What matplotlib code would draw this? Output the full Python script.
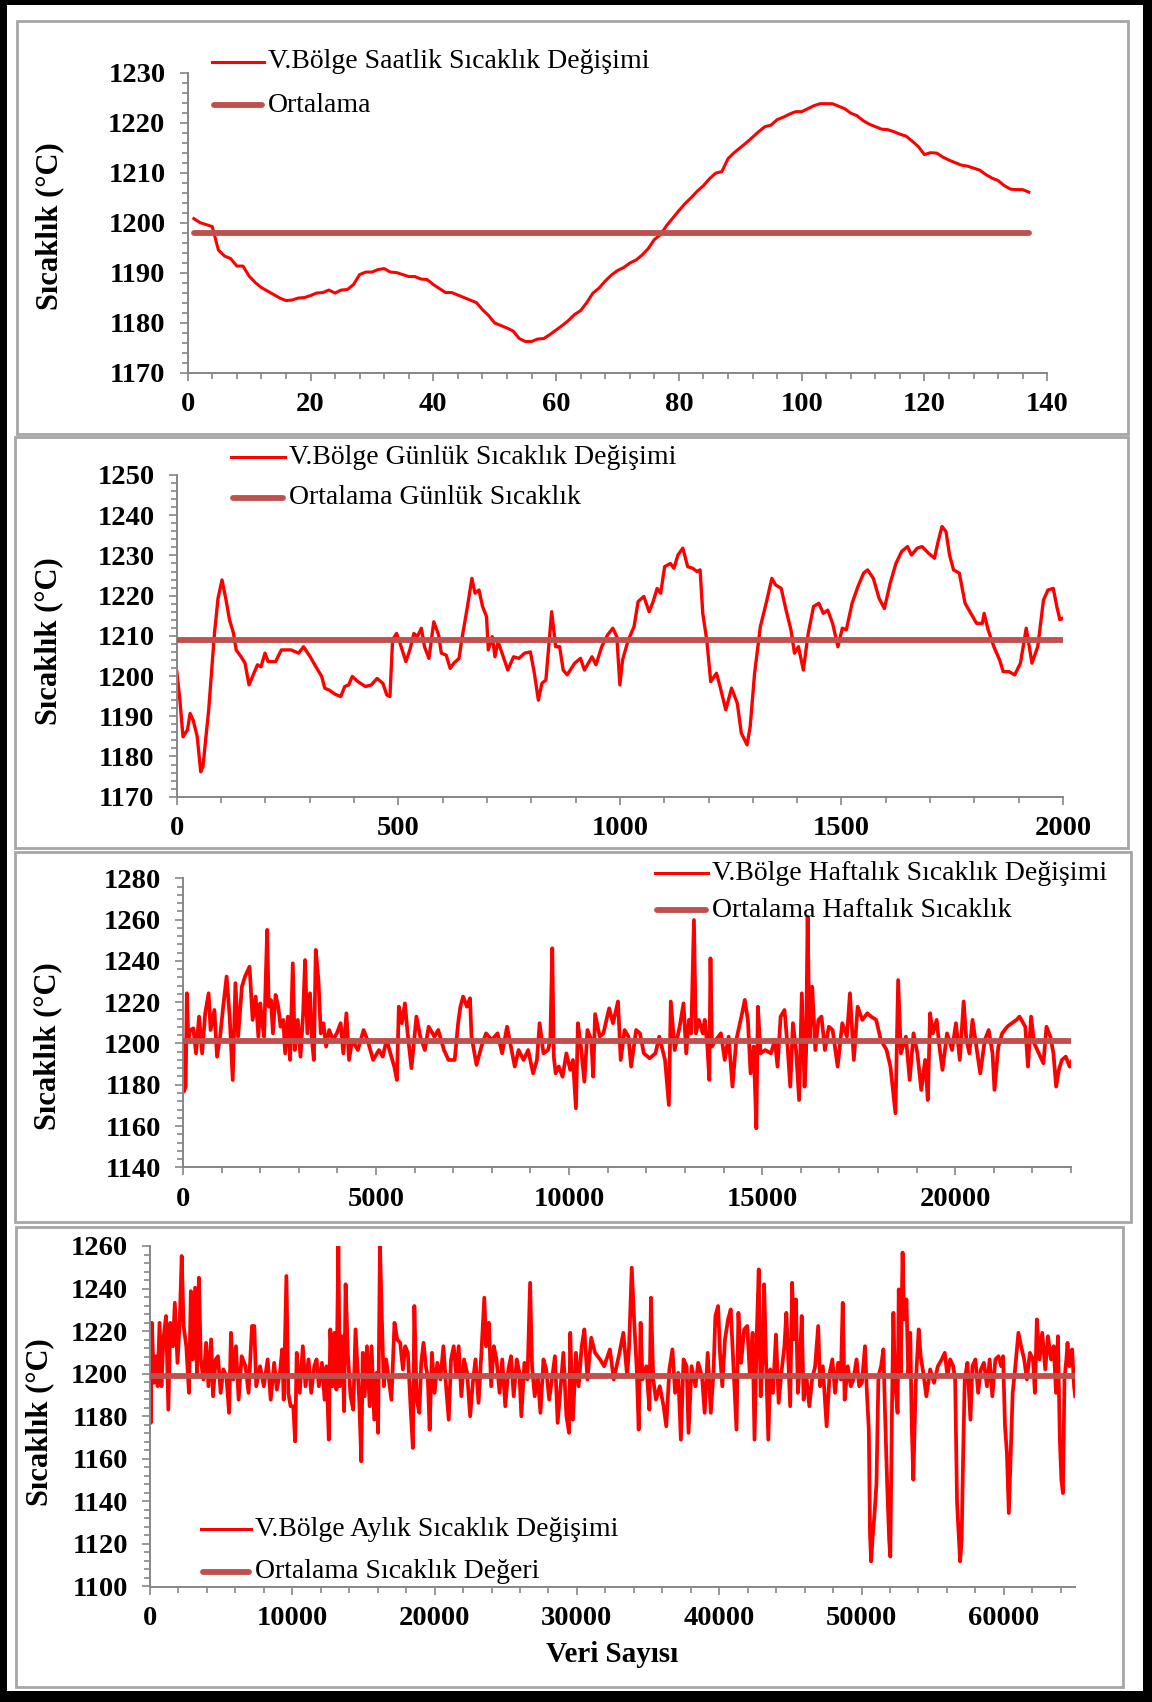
import numpy as np
import matplotlib
matplotlib.use('Agg')
import matplotlib.pyplot as plt
from matplotlib.lines import Line2D
from matplotlib.patches import Rectangle
from matplotlib.ticker import MultipleLocator

plt.rcParams['font.family'] = ['Liberation Serif', 'DejaVu Serif']
plt.rcParams['font.weight'] = 'bold'

# ---------------- DATA ----------------
# Panel 1: hourly (Saatlik), x = 1..137
hourly_values = [
    1200.8, 1200.0, 1199.6, 1199.2, 1194.5, 1193.3, 1192.8, 1191.3, 1191.3, 1189.3,
    1188.0, 1187.0, 1186.3, 1185.6, 1184.9, 1184.4, 1184.5, 1184.9, 1185.0, 1185.4,
    1185.9, 1186.0, 1186.5, 1185.9, 1186.5, 1186.6, 1187.6, 1189.6, 1190.1, 1190.1,
    1190.6, 1190.8, 1190.1, 1190.0, 1189.6, 1189.2, 1189.2, 1188.7, 1188.6, 1187.6,
    1186.8, 1186.0, 1186.0, 1185.5, 1185.0, 1184.5, 1184.0, 1182.6, 1181.4, 1179.9,
    1179.4, 1178.9, 1178.3, 1176.8, 1176.2, 1176.2, 1176.7, 1176.8, 1177.6, 1178.5,
    1179.4, 1180.4, 1181.6, 1182.4, 1184.0, 1185.9, 1186.9, 1188.3, 1189.5, 1190.4,
    1191.0, 1191.9, 1192.5, 1193.5, 1194.8, 1196.6, 1197.6, 1199.4, 1200.9, 1202.4,
    1203.8, 1205.0, 1206.3, 1207.4, 1208.8, 1209.9, 1210.2, 1212.8, 1214.0, 1215.0,
    1216.0, 1217.1, 1218.2, 1219.2, 1219.5, 1220.6, 1221.1, 1221.7, 1222.2, 1222.2,
    1222.8, 1223.4, 1223.8, 1223.8, 1223.8, 1223.3, 1222.8, 1221.9, 1221.4, 1220.4,
    1219.7, 1219.2, 1218.7, 1218.6, 1218.2, 1217.7, 1217.3, 1216.3, 1215.2, 1213.6,
    1214.0, 1213.9, 1213.1, 1212.5, 1212.0, 1211.5, 1211.3, 1210.9, 1210.5, 1209.6,
    1208.9, 1208.4, 1207.4, 1206.7, 1206.6, 1206.6, 1206.1]
hourly_mean = 1198.0

# Panel 2: daily (Gunluk)
daily_x = [0, 7, 14, 24, 30, 37, 46, 54, 59, 72, 85, 93, 102, 111, 119, 128, 134, 145, 154, 163,
           171, 182, 190, 199, 206, 223, 236, 258, 275, 286, 301, 314, 327, 334, 344, 357, 370, 379,
           388, 396, 409, 426, 439, 452, 465, 474, 481, 487, 496, 504, 517, 526, 535, 543, 552, 559,
           569, 580, 591, 597, 608, 617, 625, 637, 643, 656, 666, 673, 682, 690, 699, 703, 712, 718,
           725, 734, 747, 760, 772, 785, 798, 807, 816, 824, 833, 839, 846, 855, 864, 872, 881, 898,
           911, 920, 937, 946, 959, 972, 984, 993, 1000, 1006, 1019, 1032, 1041, 1054, 1066, 1075,
           1084, 1092, 1101, 1114, 1122, 1131, 1142, 1153, 1164, 1174, 1181, 1187, 1196, 1205, 1218,
           1226, 1239, 1252, 1265, 1274, 1287, 1294, 1304, 1317, 1330, 1343, 1351, 1364, 1375, 1386,
           1394, 1403, 1414, 1425, 1437, 1449, 1459, 1469, 1480, 1492, 1502, 1511, 1524, 1537, 1550,
           1559, 1572, 1585, 1597, 1610, 1623, 1636, 1649, 1658, 1671, 1682, 1697, 1710, 1718, 1727,
           1736, 1744, 1753, 1766, 1779, 1792, 1805, 1818, 1822, 1831, 1844, 1857, 1865, 1878, 1891,
           1904, 1917, 1930, 1943, 1956, 1966, 1978, 1986, 1993, 2000]
daily_values = [1201.1, 1194.0, 1184.9, 1186.6, 1190.7, 1189.0, 1185.0, 1176.2, 1177.5, 1191.6,
                1210.6, 1219.3, 1223.9, 1219.0, 1214.0, 1210.6, 1206.5, 1204.8, 1203.2, 1197.8,
                1199.9, 1202.8, 1202.3, 1205.7, 1203.6, 1203.6, 1206.5, 1206.5, 1205.7, 1207.3,
                1204.8, 1202.3, 1199.9, 1197.0, 1196.5, 1195.5, 1194.9, 1197.4, 1197.8, 1199.9,
                1198.6, 1197.4, 1197.8, 1199.4, 1198.2, 1195.3, 1194.9, 1209.0, 1210.6, 1208.1,
                1203.6, 1206.5, 1210.6, 1209.8, 1211.9, 1207.3, 1204.4, 1213.5, 1210.2, 1205.7,
                1205.2, 1201.9, 1203.2, 1204.4, 1209.0, 1217.3, 1224.3, 1220.6, 1221.4, 1217.3,
                1214.8, 1206.5, 1209.8, 1204.8, 1208.6, 1205.7, 1201.5, 1204.8, 1204.4, 1205.7,
                1206.0, 1200.7, 1194.0, 1198.2, 1199.0, 1206.9, 1216.0, 1207.3, 1207.3, 1201.5,
                1200.3, 1203.2, 1204.4, 1201.5, 1204.8, 1202.8, 1207.3, 1210.2, 1211.9, 1209.8,
                1197.8, 1204.0, 1209.0, 1212.3, 1218.5, 1219.8, 1216.0, 1218.5, 1221.8, 1220.6,
                1227.2, 1228.0, 1226.8, 1230.1, 1231.8, 1227.2, 1226.8, 1226.0, 1226.4, 1215.6,
                1209.0, 1198.6, 1200.7, 1197.4, 1191.6, 1197.0, 1193.2, 1185.8, 1182.9, 1187.4,
                1200.7, 1212.3, 1218.1, 1224.3, 1222.7, 1221.8, 1216.4, 1211.5, 1205.7, 1207.3,
                1201.5, 1210.6, 1217.3, 1218.1, 1215.6, 1216.4, 1213.1, 1207.3, 1211.9, 1211.5,
                1218.1, 1222.2, 1225.6, 1226.4, 1224.3, 1219.3, 1216.8, 1223.1, 1228.0, 1231.0,
                1232.2, 1230.1, 1231.8, 1232.2, 1230.5, 1229.3, 1233.4, 1237.2, 1235.9, 1230.1,
                1226.4, 1225.6, 1218.1, 1215.6, 1213.1, 1213.1, 1215.6, 1211.5, 1207.3, 1204.0,
                1201.1, 1201.1, 1200.3, 1203.2, 1211.9, 1203.2, 1207.3, 1218.9, 1221.4, 1221.8,
                1217.3, 1214.0, 1214.4]
daily_mean = 1209.0

# Panel 3: weekly (Haftalik)
weekly_x = [0, 20, 69, 99, 139, 188, 268, 337, 416, 496, 575, 664, 714, 813, 882, 961, 1041, 1130,
            1209, 1288, 1358, 1427, 1526, 1606, 1724, 1804, 1883, 1952, 2002, 2052, 2101, 2180,
            2220, 2280, 2329, 2398, 2468, 2527, 2597, 2646, 2716, 2775, 2844, 2894, 2973, 3043,
            3112, 3162, 3221, 3290, 3340, 3389, 3439, 3508, 3568, 3637, 3707, 3786, 3885, 3984,
            4083, 4153, 4232, 4301, 4381, 4529, 4678, 4777, 4926, 5074, 5173, 5273, 5372, 5471,
            5540, 5590, 5669, 5748, 5818, 5917, 6046, 6145, 6264, 6363, 6512, 6611, 6760, 6878,
            7037, 7126, 7185, 7255, 7354, 7433, 7473, 7602, 7730, 7849, 7998, 8147, 8266, 8394,
            8494, 8593, 8692, 8821, 8940, 9068, 9167, 9237, 9336, 9455, 9514, 9564, 9604, 9653,
            9732, 9831, 9930, 10030, 10099, 10178, 10228, 10307, 10396, 10476, 10575, 10624, 10674,
            10793, 10888, 11038, 11138, 11267, 11337, 11437, 11537, 11607, 11737, 11836, 11936,
            12086, 12236, 12335, 12485, 12585, 12635, 12735, 12864, 12964, 13034, 13104, 13164,
            13234, 13283, 13363, 13463, 13513, 13582, 13632, 13662, 13702, 13802, 13932, 14032,
            14132, 14232, 14331, 14481, 14551, 14631, 14701, 14780, 14850, 14890, 14960, 15080,
            15230, 15329, 15399, 15479, 15579, 15659, 15729, 15798, 15878, 15958, 16028, 16098,
            16138, 16178, 16228, 16297, 16377, 16457, 16537, 16627, 16727, 16826, 16956, 17076,
            17196, 17275, 17375, 17475, 17595, 17725, 17824, 17954, 18074, 18224, 18323, 18453,
            18523, 18593, 18723, 18822, 18922, 19022, 19122, 19222, 19291, 19351, 19421, 19521,
            19591, 19671, 19790, 19920, 20020, 20120, 20220, 20289, 20369, 20449, 20549, 20649,
            20768, 20868, 20968, 21018, 21118, 21218, 21347, 21467, 21587, 21667, 21816, 21886,
            21966, 22046, 22166, 22285, 22365, 22465, 22545, 22615, 22685, 22764, 22864, 22964, 23034]
weekly_values = [1201.7, 1176.7, 1179.0, 1224.3, 1201.7, 1206.5, 1207.3, 1195.2, 1213.0, 1195.2,
                 1214.6, 1224.3, 1206.5, 1216.2, 1193.6, 1203.3, 1217.8, 1232.4, 1213.0, 1182.3,
                 1229.2, 1203.3, 1227.5, 1232.4, 1237.2, 1211.4, 1222.7, 1203.3, 1219.4, 1209.8,
                 1203.3, 1255.0, 1217.8, 1221.0, 1204.9, 1223.5, 1217.8, 1208.1, 1211.4, 1195.2,
                 1213.0, 1192.0, 1238.8, 1196.8, 1211.4, 1193.6, 1214.6, 1240.4, 1204.9, 1224.3,
                 1201.7, 1192.0, 1245.3, 1230.7, 1204.9, 1209.8, 1198.5, 1206.5, 1201.7, 1204.9,
                 1209.8, 1195.2, 1214.6, 1192.0, 1201.7, 1196.8, 1206.5, 1201.7, 1192.0, 1196.8,
                 1193.6, 1201.7, 1195.2, 1188.8, 1182.3, 1217.8, 1209.8, 1219.4, 1204.9, 1188.0,
                 1213.0, 1203.3, 1196.8, 1208.1, 1203.3, 1206.5, 1196.8, 1192.0, 1192.0, 1209.8,
                 1217.8, 1222.7, 1217.8, 1221.9, 1203.3, 1189.6, 1198.5, 1204.9, 1201.7, 1204.9,
                 1195.2, 1208.1, 1198.5, 1188.8, 1196.8, 1192.0, 1196.8, 1185.5, 1192.0, 1209.8,
                 1195.2, 1196.8, 1201.7, 1246.1, 1193.6, 1185.5, 1188.8, 1183.9, 1195.2, 1187.2,
                 1192.0, 1168.6, 1209.8, 1198.5, 1181.5, 1206.5, 1201.7, 1183.9, 1214.2, 1203.3,
                 1204.9, 1217.0, 1209.8, 1220.3, 1192.0, 1206.5, 1203.3, 1188.8, 1206.5, 1204.9,
                 1195.2, 1192.8, 1195.2, 1203.3, 1192.0, 1170.2, 1220.3, 1196.8, 1208.1, 1219.4,
                 1195.2, 1211.4, 1204.9, 1259.8, 1204.9, 1211.4, 1204.9, 1211.4, 1198.5, 1182.3,
                 1241.2, 1198.5, 1201.7, 1204.9, 1192.0, 1203.3, 1179.1, 1201.7, 1214.6, 1221.1,
                 1211.4, 1185.5, 1198.5, 1158.9, 1217.8, 1195.2, 1196.8, 1195.2, 1201.7, 1188.8,
                 1213.0, 1216.2, 1198.5, 1179.1, 1209.8, 1196.8, 1172.6, 1224.3, 1179.1, 1195.2,
                 1261.4, 1201.7, 1227.5, 1196.8, 1211.4, 1213.0, 1196.8, 1208.1, 1206.5, 1188.8,
                 1209.8, 1203.3, 1224.3, 1192.0, 1217.8, 1211.4, 1214.6, 1213.0, 1211.4, 1201.7,
                 1196.8, 1188.8, 1166.2, 1230.7, 1195.2, 1203.3, 1182.3, 1204.9, 1195.2, 1177.5,
                 1192.0, 1172.6, 1214.6, 1204.9, 1211.4, 1198.5, 1187.2, 1204.9, 1196.8, 1209.8,
                 1192.0, 1220.3, 1201.7, 1195.2, 1211.4, 1198.5, 1185.5, 1201.7, 1206.5, 1195.2,
                 1177.5, 1198.5, 1204.9, 1208.1, 1209.8, 1211.4, 1213.0, 1208.1, 1188.8, 1213.0,
                 1200.1, 1195.2, 1190.4, 1208.1, 1203.3, 1195.2, 1179.1, 1187.2, 1192.0, 1193.6,
                 1188.8, 1192.0]
weekly_mean = 1201.0

# Panel 4: monthly (Aylik)
monthly_x = [0, 54, 134, 268, 403, 537, 671, 805, 940, 1128, 1289, 1423, 1611, 1745, 1933, 2094,
             2228, 2362, 2550, 2738, 2872, 3007, 3168, 3302, 3436, 3570, 3758, 3946, 4107, 4295,
             4430, 4617, 4778, 4966, 5154, 5369, 5557, 5691, 5852, 6040, 6228, 6443, 6711, 6926,
             7168, 7329, 7463, 7732, 8000, 8268, 8483, 8725, 8913, 9128, 9289, 9396, 9584, 9718,
             9879, 10067, 10201, 10309, 10523, 10738, 10926, 11141, 11329, 11544, 11705, 11866,
             12081, 12268, 12403, 12564, 12671, 12832, 12966, 13101, 13235, 13342, 13503, 13638,
             13745, 13906, 14094, 14282, 14443, 14577, 14711, 14846, 14953, 15087, 15248, 15436,
             15570, 15758, 15919, 16027, 16161, 16295, 16430, 16591, 16778, 16966, 17181, 17369,
             17584, 17772, 17933, 18121, 18309, 18470, 18577, 18738, 18926, 19060, 19221, 19382,
             19517, 19651, 19812, 20000, 20188, 20403, 20617, 20805, 20993, 21154, 21342, 21530,
             21691, 21879, 22067, 22282, 22497, 22685, 22872, 23087, 23302, 23490, 23624, 23812,
             23973, 24161, 24349, 24564, 24752, 24966, 25181, 25369, 25557, 25772, 25960, 26094,
             26309, 26523, 26711, 26846, 27034, 27248, 27436, 27651, 27839, 28054, 28242, 28456,
             28644, 28859, 29047, 29262, 29450, 29530, 29718, 29933, 30121, 30336, 30523, 30738,
             31007, 31275, 31624, 31914, 32318, 32588, 32992, 33261, 33531, 33666, 33854, 34016,
             34205, 34340, 34474, 34609, 34879, 35094, 35202, 35364, 35553, 35822, 36092, 36280,
             36496, 36712, 36900, 37116, 37305, 37493, 37709, 37844, 38059, 38329, 38518, 38787,
             38976, 39191, 39407, 39596, 39730, 39919, 40054, 40216, 40404, 40620, 40809, 40997,
             41213, 41348, 41536, 41752, 41968, 42156, 42345, 42480, 42642, 42776, 42911, 43046,
             43154, 43288, 43450, 43585, 43774, 43989, 44178, 44367, 44582, 44717, 44852, 44987,
             45121, 45256, 45391, 45526, 45660, 45795, 45930, 46146, 46334, 46523, 46739, 46954,
             47089, 47278, 47547, 47763, 47951, 48140, 48356, 48544, 48679, 48814, 49030, 49245,
             49434, 49650, 49838, 50027, 50243, 50377, 50512, 50593, 50674, 50782, 50916, 51051,
             51186, 51375, 51536, 51644, 51806, 51941, 52022, 52129, 52237, 52345, 52534, 52615,
             52749, 52884, 52992, 53154, 53288, 53423, 53531, 53639, 53801, 54016, 54151, 54340,
             54555, 54825, 55094, 55364, 55633, 55849, 56038, 56226, 56442, 56577, 56712, 56819,
             56927, 57035, 57143, 57251, 57439, 57655, 57790, 58005, 58194, 58383, 58598, 58814,
             59003, 59191, 59407, 59623, 59811, 59946, 60081, 60216, 60350, 60485, 60620, 60809,
             61024, 61213, 61429, 61617, 61833, 62049, 62183, 62318, 62507, 62695, 62911, 63100,
             63315, 63504, 63666, 63801, 63935, 64043, 64151, 64259, 64394, 64474, 64609, 64798,
             64933, 65013]
monthly_values = [1198.8, 1176.9, 1223.9, 1195.7, 1208.2, 1194.1, 1223.9, 1194.1, 1216.1, 1227.1,
                  1183.1, 1223.9, 1212.9, 1233.3, 1205.1, 1225.5, 1255.3, 1222.4, 1212.9, 1191.0,
                  1238.8, 1206.7, 1240.4, 1198.8, 1245.1, 1206.7, 1197.3, 1214.5, 1194.1, 1216.1,
                  1189.4, 1206.7, 1208.2, 1191.0, 1202.0, 1198.8, 1181.6, 1219.2, 1197.3, 1212.9,
                  1187.8, 1208.2, 1203.5, 1191.0, 1222.4, 1222.4, 1194.1, 1203.5, 1194.1, 1206.7,
                  1187.8, 1205.1, 1192.5, 1200.3, 1211.4, 1187.8, 1245.9, 1191.0, 1184.7, 1184.7,
                  1168.2, 1209.8, 1191.0, 1212.9, 1194.1, 1206.7, 1191.0, 1203.5, 1206.7, 1194.1,
                  1205.1, 1187.8, 1203.5, 1169.0, 1220.8, 1194.1, 1219.2, 1192.5, 1260.0, 1194.1,
                  1217.6, 1182.4, 1242.0, 1209.0, 1189.4, 1183.1, 1220.8, 1203.5, 1186.3, 1158.8,
                  1209.8, 1189.4, 1212.9, 1184.7, 1212.9, 1178.4, 1200.4, 1172.2, 1260.0, 1225.5,
                  1194.1, 1206.7, 1197.3, 1187.8, 1223.9, 1216.1, 1214.5, 1202.0, 1212.9, 1209.8,
                  1184.7, 1165.1, 1231.8, 1187.8, 1181.6, 1205.1, 1214.5, 1203.5, 1198.8, 1173.7,
                  1209.8, 1191.0, 1205.1, 1197.3, 1212.9, 1194.1, 1178.4, 1206.7, 1212.9, 1198.8,
                  1212.9, 1189.4, 1206.7, 1200.4, 1180.0, 1195.7, 1206.7, 1186.3, 1211.4, 1235.7,
                  1212.9, 1223.9, 1194.1, 1212.9, 1206.7, 1191.0, 1206.7, 1184.7, 1202.0, 1208.2,
                  1189.4, 1206.7, 1200.4, 1180.0, 1205.1, 1197.3, 1242.7, 1203.5, 1189.4, 1198.8,
                  1181.6, 1206.7, 1202.0, 1187.8, 1197.3, 1208.2, 1176.9, 1194.1, 1209.8, 1180.0,
                  1172.2, 1219.2, 1178.4, 1209.8, 1194.1, 1212.9, 1220.8, 1197.3, 1216.9, 1209.8,
                  1206.7, 1203.5, 1211.4, 1197.3, 1209.8, 1219.2, 1198.8, 1212.9, 1249.8, 1225.5,
                  1202.0, 1173.7, 1223.9, 1197.3, 1203.5, 1183.1, 1235.7, 1197.3, 1187.8, 1194.1,
                  1184.7, 1175.3, 1202.0, 1211.4, 1191.0, 1200.4, 1169.0, 1206.7, 1203.5, 1172.2,
                  1203.5, 1194.1, 1205.1, 1198.8, 1181.6, 1209.8, 1181.6, 1200.4, 1227.1, 1231.8,
                  1209.8, 1194.1, 1216.1, 1225.5, 1230.2, 1203.5, 1173.7, 1228.6, 1205.1, 1220.8,
                  1222.4, 1198.8, 1219.2, 1169.0, 1219.2, 1249.0, 1189.4, 1206.7, 1242.0, 1206.7,
                  1169.0, 1202.0, 1191.0, 1218.4, 1186.3, 1200.4, 1212.9, 1228.6, 1206.7, 1184.7,
                  1242.7, 1216.1, 1234.9, 1191.0, 1203.5, 1227.1, 1187.8, 1197.3, 1184.7, 1197.3,
                  1203.5, 1222.4, 1194.1, 1203.5, 1175.3, 1200.4, 1206.7, 1191.0, 1205.1, 1197.3,
                  1233.3, 1187.8, 1203.5, 1194.1, 1197.3, 1206.7, 1194.1, 1195.7, 1212.9, 1191.0,
                  1173.7, 1125.1, 1111.8, 1123.5, 1134.5, 1148.6, 1198.8, 1203.5, 1211.4, 1183.1,
                  1147.1, 1122.0, 1114.1, 1178.4, 1228.6, 1197.3, 1181.6, 1239.6, 1200.4, 1256.9,
                  1225.5, 1234.9, 1198.8, 1219.2, 1175.3, 1150.2, 1194.1, 1220.8, 1208.2, 1200.4,
                  1189.4, 1202.0, 1195.7, 1203.5, 1206.7, 1209.8, 1198.8, 1206.7, 1203.5, 1197.3,
                  1139.2, 1125.1, 1111.8, 1122.0, 1162.7, 1197.3, 1205.1, 1178.4, 1203.5, 1206.7,
                  1191.0, 1202.0, 1205.1, 1194.1, 1206.7, 1189.4, 1206.7, 1208.2, 1203.5, 1208.2,
                  1175.3, 1162.7, 1134.5, 1162.7, 1191.0, 1203.5, 1219.2, 1212.9, 1206.7, 1197.3,
                  1209.8, 1206.7, 1191.0, 1225.5, 1206.7, 1219.2, 1202.0, 1217.6, 1206.7, 1212.9,
                  1191.0, 1217.6, 1169.0, 1150.2, 1143.9, 1197.3, 1206.7, 1214.5, 1203.5, 1211.4,
                  1194.1, 1189.4]
monthly_mean = 1199.0

legend_series = ['V.Bölge Saatlik Sıcaklık Değişimi', 'V.Bölge Günlük Sıcaklık Değişimi',
                 'V.Bölge Haftalık Sıcaklık Değişimi', 'V.Bölge Aylık Sıcaklık Değişimi']
legend_means = ['Ortalama', 'Ortalama Günlük Sıcaklık',
                'Ortalama Haftalık Sıcaklık', 'Ortalama Sıcaklık Değeri']
ylabel = 'Sıcaklık (°C)'
xlabel = 'Veri Sayısı'

# ---------------- STYLE ----------------
RED = '#FF0000'
MEANC = '#C0504D'
AXC = '#868686'
BOXC = '#A6A6A6'

W, H = 1152, 1702
fig = plt.figure(figsize=(W / 100, H / 100), dpi=100)


def fx(px):
    return px / W


def fy(py):
    return 1 - py / H


def make_axes(l, r, t, b):
    ax = fig.add_axes([fx(l), fy(b), (r - l) / W, (b - t) / H])
    ax.patch.set_alpha(0)
    return ax


def style(ax, xlim, xmaj, xmin, ylim, ymaj, ymin):
    ax.set_xlim(*xlim)
    ax.set_ylim(*ylim)
    ax.xaxis.set_major_locator(MultipleLocator(xmaj))
    ax.xaxis.set_minor_locator(MultipleLocator(xmin))
    ax.yaxis.set_major_locator(MultipleLocator(ymaj))
    ax.yaxis.set_minor_locator(MultipleLocator(ymin))
    for s in ['top', 'right']:
        ax.spines[s].set_visible(False)
    for s in ['left', 'bottom']:
        ax.spines[s].set_color(AXC)
        ax.spines[s].set_linewidth(1.4)
    ax.tick_params(which='both', direction='out', color=AXC, width=1.2)
    ax.tick_params(which='major', length=6)
    ax.tick_params(which='minor', length=4.5)
    ax.tick_params(axis='y', which='major', pad=10, labelsize=20.5)
    ax.tick_params(axis='x', which='major', pad=8, labelsize=20.5)


def legend(x0, x1, y1, y2, lab1, lab2):
    fig.add_artist(Line2D([fx(x0), fx(x1)], [fy(y1), fy(y1)], color=RED, lw=2.2))
    fig.add_artist(Line2D([fx(x0 + 2), fx(x1 - 2)], [fy(y2), fy(y2)], color=MEANC, lw=4.2,
                          solid_capstyle='round'))
    fig.text(fx(x1 + 4), fy(y1), lab1, fontsize=20, fontweight='normal', va='center', ha='left')
    fig.text(fx(x1 + 4), fy(y2), lab2, fontsize=20, fontweight='normal', va='center', ha='left')


# Panel boxes
for (l, r, t, b) in [(17, 1128, 21, 434), (15, 1128, 437, 848), (15, 1131, 852, 1222), (16, 1123, 1227, 1687)]:
    fig.add_artist(Rectangle((fx(l), fy(b)), (r - l) / W, (b - t) / H, transform=fig.transFigure,
                             fill=False, edgecolor=BOXC, lw=2.0))

# Black outer frame
for (l, r, t, b) in [(0, 7, 0, H), (0, W, 0, 5), (1143, W, 0, H), (0, W, 1691, H)]:
    fig.add_artist(Rectangle((fx(l), fy(b)), (r - l) / W, (b - t) / H, transform=fig.transFigure,
                             facecolor='black', edgecolor='none'))

# Panel 1
ax1 = make_axes(187.7, 1047.3, 72.7, 372.5)
hx = np.arange(1, len(hourly_values) + 1)
ax1.plot(hx, hourly_values, color=RED, lw=2.2, zorder=2)
ax1.plot([hx[0], hx[-1]], [hourly_mean, hourly_mean], color=MEANC, lw=4.2, solid_capstyle='round', zorder=3)
style(ax1, (0, 140), 20, 4, (1170, 1230), 10, 2)
legend(212, 264, 62, 105, legend_series[0], legend_means[0])
fig.text(fx(50), fy(226), ylabel, rotation=90, fontsize=22, ha='center', va='center')

# Panel 2
ax2 = make_axes(176.8, 1063, 475, 796.7)
ax2.plot(daily_x, daily_values, color=RED, lw=2.4, zorder=2)
ax2.plot([daily_x[0], daily_x[-1]], [daily_mean, daily_mean], color=MEANC, lw=4.2, solid_capstyle='round', zorder=3)
style(ax2, (0, 2000), 500, 100, (1170, 1250), 10, 2)
legend(231, 285, 457, 498, legend_series[1], legend_means[1])
fig.text(fx(49), fy(641), ylabel, rotation=90, fontsize=22, ha='center', va='center')

# Panel 3
ax3 = make_axes(183, 1071, 878.3, 1167.3)
ax3.plot(weekly_x, weekly_values, color=RED, lw=2.7, zorder=2)
ax3.plot([weekly_x[0], weekly_x[-1]], [weekly_mean, weekly_mean], color=MEANC, lw=4.2, solid_capstyle='round', zorder=3)
style(ax3, (0, 23000), 5000, 1000, (1140, 1280), 20, 4)
legend(655, 708, 873, 910, legend_series[2], legend_means[2])
fig.text(fx(48), fy(1046), ylabel, rotation=90, fontsize=22, ha='center', va='center')

# Panel 4
ax4 = make_axes(150, 1075, 1246, 1586.5)
ax4.plot(monthly_x, monthly_values, color=RED, lw=2.7, zorder=2)
ax4.plot([monthly_x[0], monthly_x[-1]], [monthly_mean, monthly_mean], color=MEANC, lw=4.2, solid_capstyle='round', zorder=3)
style(ax4, (0, 65000), 10000, 2000, (1100, 1260), 20, 4)
legend(201, 251, 1529, 1572, legend_series[3], legend_means[3])
fig.text(fx(40), fy(1422), ylabel, rotation=90, fontsize=22, ha='center', va='center')
fig.text(fx(612), fy(1655), xlabel, fontsize=21, ha='center', va='center')

fig.savefig('out.png', dpi=100)
